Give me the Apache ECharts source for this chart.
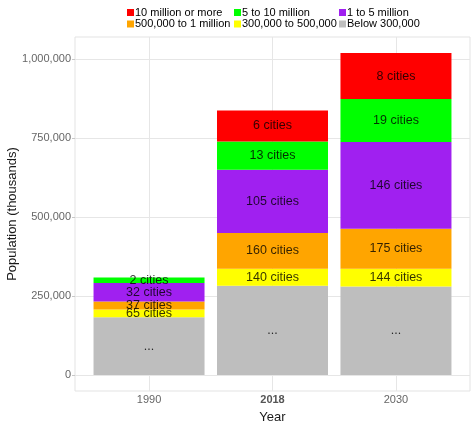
<!DOCTYPE html>
<html>
<head>
    <meta charset="utf-8" />
    <title>Population by city size</title>
    <script src="https://cdn.jsdelivr.net/npm/echarts@6/dist/echarts.min.js"></script>
</head>
<body style="margin:0;padding:0;background:#ffffff;">
    <div id="main" style="width:475px;height:428px;"></div>
    <script type="text/javascript">
        // data (population in thousands)
        var years = ['1990', '2018', '2030'];
        var sizeNames = ['Below 300,000', '300,000 to 500,000', '500,000 to 1 million',
                         '1 to 5 million', '5 to 10 million', '10 million or more'];
        var sizeColors = ['#BEBEBE', '#FFFF00', '#FFA500', '#A020F0', '#00FF00', '#FF0000'];
        var below300k  = [182000, 282000, 280000];
        var from300k   = [25000, 54000, 56000];
        var from500k   = [25000, 113000, 126500];
        var from1m     = [59000, 200000, 274000];
        var from5m     = [17500, 89500, 136000];
        var over10m    = [0, 98000, 145500];
        var cityLabels = [
            ['...', '...', '...'],
            ['65 cities', '140 cities', '144 cities'],
            ['37 cities', '160 cities', '175 cities'],
            ['32 cities', '105 cities', '146 cities'],
            ['2 cities', '13 cities', '19 cities'],
            ['', '6 cities', '8 cities']
        ];
        var yTicks = [0, 250000, 500000, 750000, 1000000];
        var xTicks = [1, 2, 3];

        var values = [below300k, from300k, from500k, from1m, from5m, over10m];
        var FONT = 'Liberation Sans, Arial, sans-serif';
        var Y_MIN = -50900, Y_MAX = 1068900;

        var chart = echarts.init(document.getElementById('main'));

        var series = [];
        for (var i = 0; i < sizeNames.length; i++) {
            var data = [];
            for (var j = 0; j < years.length; j++) {
                data.push({ value: values[i][j], lbl: cityLabels[i][j] });
            }
            series.push({
                name: sizeNames[i],
                type: 'bar',
                stack: 'total',
                xAxisIndex: 1,
                yAxisIndex: 1,
                barWidth: 111,
                data: data,
                itemStyle: { color: sizeColors[i] },
                label: {
                    show: true,
                    position: 'inside',
                    fontFamily: FONT,
                    fontSize: 12.5,
                    color: 'rgba(0,0,0,0.8)',
                    formatter: function (p) { return p.data.lbl; }
                },
                emphasis: { disabled: true }
            });
        }

        // legend: 3 columns x 2 rows
        function legendCol(names, left) {
            return {
                orient: 'vertical',
                left: left,
                top: 7,
                padding: 0,
                itemWidth: 7,
                itemHeight: 7,
                itemGap: 0.5,
                icon: 'rect',
                selectedMode: false,
                data: names,
                textStyle: {
                    fontFamily: FONT,
                    fontSize: 11,
                    lineHeight: 10,
                    color: '#000',
                    padding: [0, 0, 0, -4]
                }
            };
        }

        var option = {
            backgroundColor: '#ffffff',
            animation: false,
            legend: [
                legendCol(['10 million or more', '500,000 to 1 million'], 127),
                legendCol(['5 to 10 million', '300,000 to 500,000'], 234),
                legendCol(['1 to 5 million', 'Below 300,000'], 339)
            ],
            grid: [
                // panel (border, grid lines, tick labels)
                { left: 75, right: 5, top: 37, bottom: 37, show: true, borderColor: '#E3E3E3', borderWidth: 1,
                  backgroundColor: 'transparent', outerBoundsMode: 'none' },
                // bars: discrete scale with 0.6 expansion each side
                { left: 87.3, right: 17.3, top: 37, bottom: 37, outerBoundsMode: 'none' }
            ],
            xAxis: [
                {
                    type: 'value',
                    gridIndex: 0,
                    min: 0.4,
                    max: 3.6,
                    name: 'Year',
                    nameLocation: 'middle',
                    nameGap: 20,
                    nameMoveOverlap: false,
                    nameTextStyle: { fontFamily: FONT, fontSize: 13, color: '#1a1a1a' },
                    axisLine: { show: false },
                    axisTick: { show: false, customValues: xTicks },
                    splitLine: { show: true, lineStyle: { color: '#E6E6E6', width: 1 } },
                    axisLabel: {
                        margin: 3,
                        fontFamily: FONT,
                        fontSize: 11,
                        color: '#666',
                        customValues: xTicks,
                        formatter: function (v) {
                            var y = years[Math.round(v) - 1] || '';
                            return y === '2018' ? '{b|' + y + '}' : y;
                        },
                        rich: { b: { fontWeight: 'bold', fontSize: 11, color: '#555', fontFamily: FONT } }
                    }
                },
                {
                    type: 'category',
                    gridIndex: 1,
                    data: years,
                    show: false
                }
            ],
            yAxis: [
                {
                    type: 'value',
                    gridIndex: 0,
                    min: Y_MIN,
                    max: Y_MAX,
                    name: 'Population (thousands)',
                    nameLocation: 'middle',
                    nameGap: 56,
                    nameMoveOverlap: false,
                    nameTextStyle: { fontFamily: FONT, fontSize: 13, color: '#1a1a1a' },
                    axisLine: { show: false },
                    axisTick: { show: true, length: 3, customValues: yTicks, lineStyle: { color: '#C8C8C8' } },
                    splitLine: { show: true, lineStyle: { color: '#E6E6E6', width: 1 } },
                    axisLabel: {
                        margin: 4,
                        fontFamily: FONT,
                        fontSize: 11,
                        color: '#666',
                        customValues: yTicks,
                        formatter: function (v) {
                            return Math.round(v).toString().replace(/\B(?=(\d{3})+(?!\d))/g, ',');
                        }
                    }
                },
                {
                    type: 'value',
                    gridIndex: 1,
                    min: Y_MIN,
                    max: Y_MAX,
                    show: false,
                    splitLine: { show: false }
                }
            ],
            series: series
        };

        chart.setOption(option);
    </script>
</body>
</html>
